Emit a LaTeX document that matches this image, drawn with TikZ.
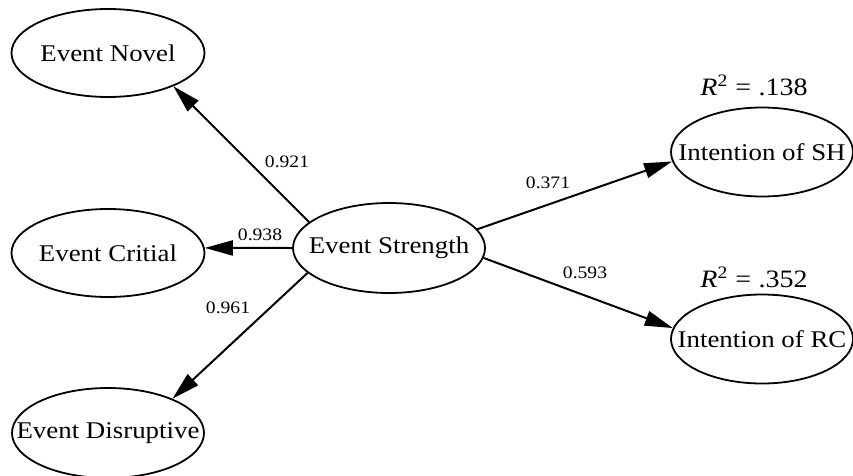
\documentclass[tikz,border=0pt]{standalone}
\usepackage{fontspec}
\setmainfont{Liberation Serif}
\newfontfamily\wideserif[FakeStretch=1.12]{Liberation Serif}
\usetikzlibrary{shapes.geometric,arrows.meta}
\newcommand{\ctext}[1]{\makebox[0pt][c]{#1}}
\begin{document}
\begin{tikzpicture}[x=1pt,y=1pt,
  lat/.style={ellipse,draw,line width=1.8pt,inner sep=0pt,minimum width=193pt,minimum height=88pt,font=\wideserif\fontsize{24}{28}\selectfont},
  arr/.style={line width=2pt,-{Triangle[length=28pt,width=15pt]}},
  coef/.style={inner sep=0pt,font=\wideserif\fontsize{17.5}{21}\selectfont},
  rsq/.style={inner sep=0pt,font=\wideserif\fontsize{25}{30}\selectfont}]
\useasboundingbox (0,0) rectangle (853,475);
\node[lat] (en) at (108,422) {\ctext{Event Novel}};
\node[lat] (ec) at (108,222) {\ctext{Event Critial}};
\node[lat,minimum width=192pt,minimum height=90pt] (ed) at (108,42) {\ctext{Event Disruptive}};
\node[lat,minimum width=192pt,minimum height=90pt] (es) at (389,227) {\ctext{Event Strength}};
\node[lat,minimum width=182pt,minimum height=89pt] (sh) at (762,323) {\ctext{Intention of SH}};
\node[lat,minimum width=182pt,minimum height=89pt] (rc) at (762,136) {\ctext{Intention of RC}};
\node[rsq] (r1) at (754,390) {\textit{R}\textsuperscript{2}\hspace{0.3em}=\hspace{0.3em}.138};
\node[rsq] (r2) at (754,198) {\textit{R}\textsuperscript{2}\hspace{0.3em}=\hspace{0.3em}.352};
\draw[arr] (es.162) -- (en.333);
\draw[arr] (es.180) -- (ec.3);
\draw[arr] (es.197) -- (ed.28);
\draw[arr] (es.12) -- (sh.186);
\draw[arr] (es.354) -- (rc.173);
\node[coef] (c1) at (287,313) {0.921};
\node[coef] (c2) at (260,240) {0.938};
\node[coef] (c3) at (228,167) {0.961};
\node[coef] (c4) at (548,292) {0.371};
\node[coef] (c5) at (585,202) {0.593};
\end{tikzpicture}
\end{document}
